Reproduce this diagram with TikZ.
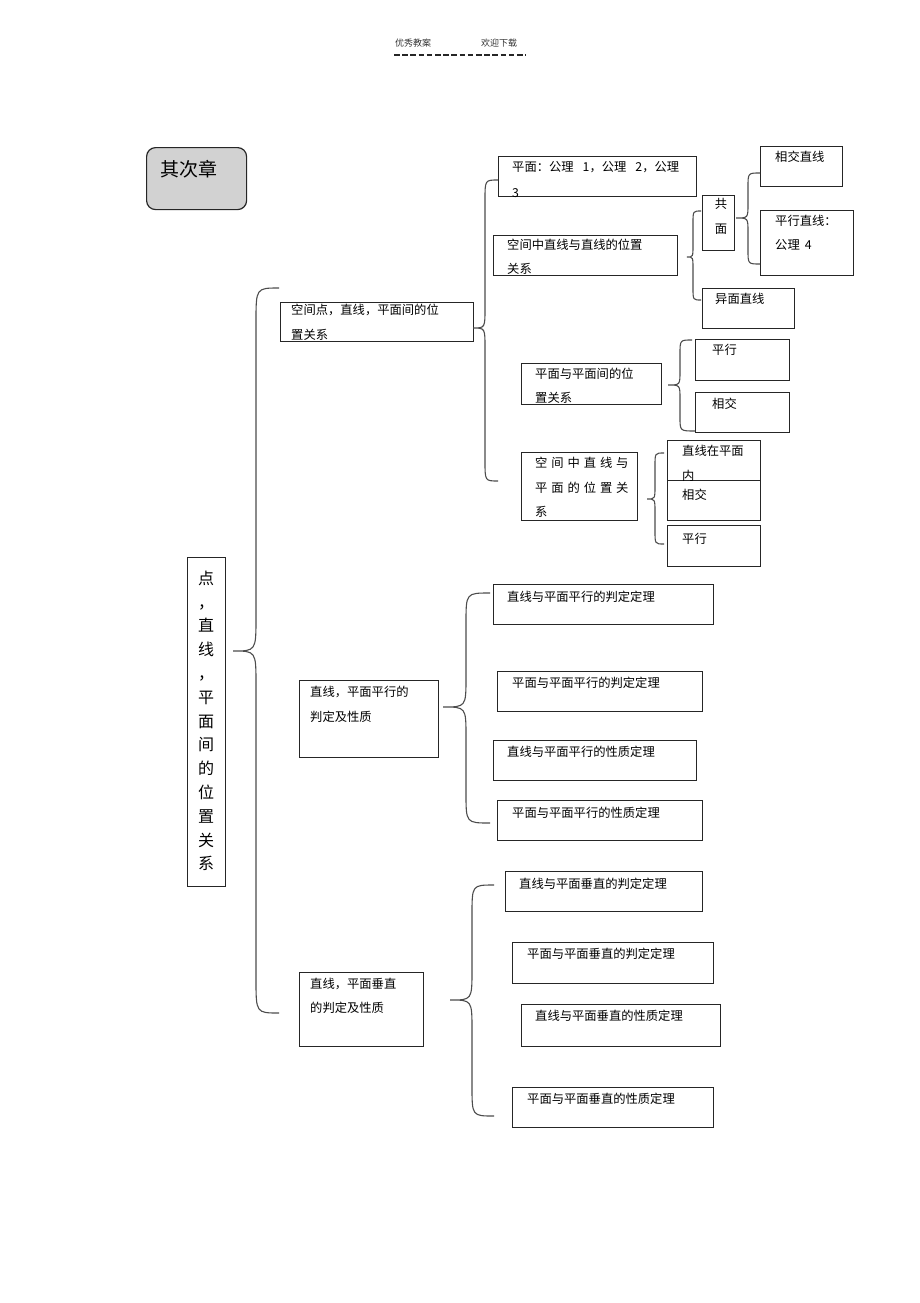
\documentclass[tikz,border=0pt]{standalone}
\usepackage{fontspec}
\setmainfont{Noto Sans CJK SC}
\usetikzlibrary{calc}
\tikzset{
  box/.style={draw=black!85, line width=0.9pt, inner sep=0pt, outer sep=0pt, anchor=north west},
  txt/.style={inner sep=0pt, anchor=west, font=\fontsize{12.3}{14}\selectfont, text height=0.88em, text depth=0.12em},
  brc/.style={draw=black!70, line width=1.1pt},
  hdr/.style={inner sep=0pt, anchor=west, font=\fontsize{9}{11}\selectfont, text=black!80},
}
\newcommand{\bx}[5]{\node[box, minimum width={#4-#2}, minimum height={#5-#3}] (#1) at (#2,#3) {};}
\newcommand{\tx}[4]{\node[txt] (#1) at (#2,#3) {#4};}
\newcommand{\mybrc}[5]{\draw[brc] let \p1=(#1), \p2=(#2), \p3=(#3) in
  (#2) .. controls (#4pt,\y2) .. (#4pt,\y2-#5pt) -- (#4pt,\y1+#5pt)
  .. controls (#4pt,\y1) .. (#1)
  .. controls (#4pt,\y1) .. (#4pt,\y1-#5pt) -- (#4pt,\y3+#5pt)
  .. controls (#4pt,\y3) .. (#3);}
\newcommand{\gp}{\hspace{3.9pt}}
\begin{document}
\begin{tikzpicture}[x=1pt,y=-1pt]
\useasboundingbox (0,0) rectangle (920,1303);
% header
\node[hdr] (h1) at (395,43) {优秀教案};
\node[hdr] (h2) at (481,43) {欢迎下载};
\coordinate (d1) at (394,55);
\coordinate (d2) at (526,55);
\draw[line width=1.3pt, black!85, dash pattern=on 5.5pt off 2.7pt] (d1) -- (d2);

% chapter box
\node[draw=black!85, line width=1.2pt, fill=gray!35, rounded corners=9pt, minimum width=100pt, minimum height=62pt, anchor=north west, inner sep=0pt] (qcz) at (146,147) {};
\node[inner sep=0pt, anchor=west, font=\fontsize{19}{22}\selectfont, text height=0.88em, text depth=0.12em] (qczt) at (160,173) {其次章};

% main vertical box
\bx{main}{187}{557}{225}{886}
\node[inner sep=0pt, align=center, font=\fontsize{16}{23.8}\selectfont] (maint) at (206,721)
  {点\\，\\直\\线\\，\\平\\面\\间\\的\\位\\置\\关\\系};

% level 1 boxes
\bx{kj}{280}{302}{473}{341}
\tx{kj1}{291}{311}{空间点，直线，平面间的位}
\tx{kj2}{291}{336}{置关系}

\bx{px0}{299}{680}{438}{757}
\tx{px01}{310}{693}{直线，平面平行的}
\tx{px02}{310}{718}{判定及性质}

\bx{cz0}{299}{972}{423}{1046}
\tx{cz01}{310}{985}{直线，平面垂直}
\tx{cz02}{310}{1009}{的判定及性质}

% level 2 (space relations)
\bx{pm}{498}{156}{696}{196}
\tx{pm1}{512}{168}{平面：公理\hspace{9pt}1，公理\hspace{9pt}2，公理}
\tx{pm2}{512}{194}{3}

\bx{zz}{493}{235}{677}{275}
\tx{zz1}{507}{246}{空间中直线与直线的位置}
\tx{zz2}{507}{270}{关系}

\bx{pp}{521}{363}{661}{404}
\tx{pp1t}{535}{375}{平面与平面间的位}
\tx{pp2t}{535}{399}{置关系}

\bx{zp}{521}{452}{637}{520}
\tx{zpa}{535}{464}{空\gp 间\gp 中\gp 直\gp 线\gp 与}
\tx{zpb}{535}{489}{平\gp 面\gp 的\gp 位\gp 置\gp 关}
\tx{zpc}{535}{513}{系}

% level 3
\bx{gm}{702}{195}{734}{250}
\node[txt, anchor=center] (gm1) at (721,205) {共};
\node[txt, anchor=center] (gm2) at (721,230) {面};

\bx{ym}{702}{288}{794}{328}
\tx{ymt}{715}{300}{异面直线}

\bx{xj}{760}{146}{842}{186}
\tx{xjt}{775}{158}{相交直线}

\bx{pxl}{760}{210}{853}{275}
\tx{pxl1}{775}{222}{平行直线：}
\tx{pxl2}{775}{246}{公理\hspace{5pt}4}

\bx{pp1}{695}{339}{789}{380}
\tx{pp1x}{712}{351}{平行}
\bx{pp2}{695}{392}{789}{432}
\tx{pp2x}{712}{405}{相交}

\bx{zp1}{667}{440}{760}{480}
\tx{zp1a}{682}{452}{直线在平面}
\bx{zp2}{667}{480}{760}{520}
\tx{zp1b}{682}{477}{内}
\tx{zp2x}{682}{496}{相交}
\bx{zp3}{667}{525}{760}{566}
\tx{zp3x}{682}{540}{平行}

% parallel theorems
\bx{a1}{493}{584}{713}{624}
\tx{a1t}{507}{598}{直线与平面平行的判定定理}
\bx{a2}{497}{671}{702}{711}
\tx{a2t}{512}{684}{平面与平面平行的判定定理}
\bx{a3}{493}{740}{696}{780}
\tx{a3t}{507}{753}{直线与平面平行的性质定理}
\bx{a4}{497}{800}{702}{840}
\tx{a4t}{512}{814}{平面与平面平行的性质定理}

% perpendicular theorems
\bx{c1}{505}{871}{702}{911}
\tx{c1t}{519}{885}{直线与平面垂直的判定定理}
\bx{c2}{512}{942}{713}{983}
\tx{c2t}{527}{955}{平面与平面垂直的判定定理}
\bx{c3}{521}{1004}{720}{1046}
\tx{c3t}{535}{1017}{直线与平面垂直的性质定理}
\bx{c4}{512}{1087}{713}{1127}
\tx{c4t}{527}{1100}{平面与平面垂直的性质定理}

% braces
\coordinate (m0) at (233,651);
\coordinate (mt) at (279,288);
\coordinate (mb) at (279,1013);
\mybrc{m0}{mt}{mb}{256}{34}

\coordinate (k0) at (473,328);
\coordinate (kt) at (498,180);
\coordinate (kb) at (498,481);
\mybrc{k0}{kt}{kb}{485}{20}

\coordinate (z0) at (687,257);
\coordinate (zt) at (701,211);
\coordinate (zb) at (701,300);
\mybrc{z0}{zt}{zb}{693}{12}

\coordinate (g0) at (736,218);
\coordinate (gt) at (760,173);
\coordinate (gb) at (760,264);
\mybrc{g0}{gt}{gb}{748}{14}

\coordinate (p0) at (668,385);
\coordinate (pt) at (692,340);
\coordinate (pb) at (695,431);
\mybrc{p0}{pt}{pb}{680}{14}

\coordinate (q0) at (647,499);
\coordinate (qt) at (664,453);
\coordinate (qb) at (664,544);
\mybrc{q0}{qt}{qb}{655}{13}

\coordinate (x0) at (443,707);
\coordinate (xt) at (490,593);
\coordinate (xb) at (490,823);
\mybrc{x0}{xt}{xb}{466}{30}

\coordinate (y0) at (450,1000);
\coordinate (yt) at (494,885);
\coordinate (yb) at (494,1116);
\mybrc{y0}{yt}{yb}{472}{30}
\end{tikzpicture}
\end{document}
